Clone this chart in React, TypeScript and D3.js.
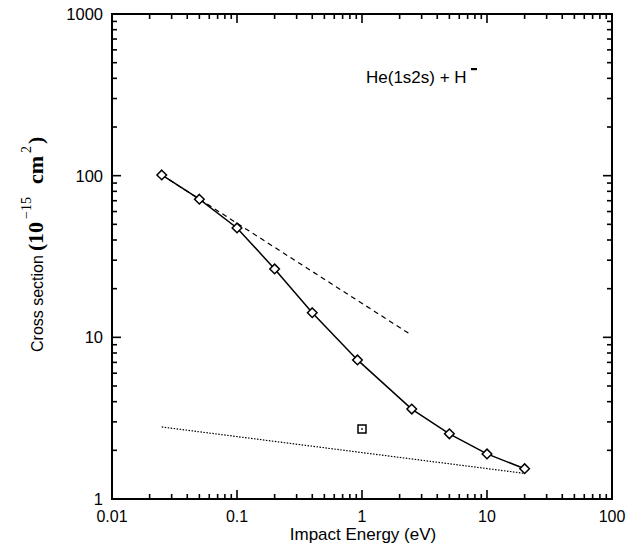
import React from 'react';
import { scaleLog, line } from 'd3';

// solid curve with diamonds
const energy = [0.025, 0.05, 0.1, 0.2, 0.4, 0.92, 2.5, 5, 10, 20];
const cross = [101, 71.5, 47.5, 26.5, 14.2, 7.25, 3.6, 2.53, 1.9, 1.54];
// dashed reference line
const dashedE = [0.025, 2.5];
const dashedS = [101, 10.3];
// dotted line
const dottedE = [0.025, 20];
const dottedS = [2.79, 1.44];
// single square point
const squareE = [1.0];
const squareS = [2.71];

const xTickLabels = ['0.01', '0.1', '1', '10', '100'];
const yTickLabels = ['1', '10', '100', '1000'];

const W = 641;
const H = 547;
const margin = { top: 14, right: 29, bottom: 48, left: 112 };

export default function App() {
  const width = W - margin.left - margin.right;
  const height = H - margin.top - margin.bottom;

  const x = scaleLog().domain([0.01, 100]).range([0, width]);
  const y = scaleLog().domain([1, 1000]).range([height, 0]);

  const ln = line<[number, number]>()
    .x(d => x(d[0]))
    .y(d => y(d[1]));

  const zip = (a: number[], b: number[]) => a.map((v, i) => [v, b[i]] as [number, number]);

  const isMajor = (v: number) => Math.abs(Math.log10(v) - Math.round(Math.log10(v))) < 1e-6;

  const xTicks = x.ticks();
  const yTicks = y.ticks();

  const font = 'Liberation Sans, Arial, Helvetica, sans-serif';
  const serif = 'Liberation Serif, DejaVu Serif, serif';

  return (
    <svg width={W} height={H} style={{ position: 'absolute', left: 0, top: 0, background: '#fff' }}>
      <g transform={`translate(${margin.left},${margin.top})`}>
        {/* ticks */}
        {xTicks.map((t, i) => {
          const len = isMajor(t) ? 9 : 5;
          return (
            <g key={'xt' + i}>
              <line x1={x(t)} x2={x(t)} y1={height} y2={height - len} stroke="#000" strokeWidth={1.6} />
              <line x1={x(t)} x2={x(t)} y1={0} y2={len} stroke="#000" strokeWidth={1.6} />
            </g>
          );
        })}
        {yTicks.map((t, i) => {
          const len = isMajor(t) ? 9 : 5;
          return (
            <g key={'yt' + i}>
              <line x1={0} x2={len} y1={y(t)} y2={y(t)} stroke="#000" strokeWidth={1.6} />
              <line x1={width} x2={width - len} y1={y(t)} y2={y(t)} stroke="#000" strokeWidth={1.6} />
            </g>
          );
        })}
        <rect x={0} y={0} width={width} height={height} fill="none" stroke="#000" strokeWidth={2} />

        {/* tick labels */}
        {xTickLabels.map(l => (
          <text key={'xl' + l} x={x(+l)} y={height + 23} textAnchor="middle" fontFamily={font} fontSize={16}>
            {l}
          </text>
        ))}
        {yTickLabels.map(l => (
          <text key={'yl' + l} x={-9} y={y(+l) + 6} textAnchor="end" fontFamily={font} fontSize={16.5}>
            {l}
          </text>
        ))}

        {/* curves */}
        <path d={ln(zip(dashedE, dashedS)) || ''} fill="none" stroke="#000" strokeWidth={1.2} strokeDasharray="5,4" />
        <path d={ln(zip(dottedE, dottedS)) || ''} fill="none" stroke="#000" strokeWidth={1.2} strokeDasharray="1.5,1.5" />
        <path d={ln(zip(energy, cross)) || ''} fill="none" stroke="#000" strokeWidth={1.5} />
        {energy.map((e, i) => {
          const cx = x(e);
          const cy = y(cross[i]);
          const r = 4.8;
          return (
            <path
              key={'d' + i}
              d={`M${cx},${cy - r}L${cx + r},${cy}L${cx},${cy + r}L${cx - r},${cy}Z`}
              fill="#fff"
              stroke="#000"
              strokeWidth={1.5}
            />
          );
        })}
        {squareE.map((e, i) => (
          <g key={'s' + i}>
            <rect x={x(e) - 4} y={y(squareS[i]) - 4} width={8} height={8} fill="#fff" stroke="#000" strokeWidth={1.5} />
            <rect x={x(e) - 0.8} y={y(squareS[i]) - 0.8} width={1.6} height={1.6} fill="#000" />
          </g>
        ))}

        {/* legend text */}
        <text x={254} y={69} fontFamily={font} fontSize={17}>
          He(1s2s) + H
        </text>
        <rect x={359} y={54} width={6} height={2.2} fill="#000" />
      </g>

      {/* axis titles */}
      <text x={363} y={540} textAnchor="middle" fontFamily={font} fontSize={17}>
        Impact Energy (eV)
      </text>
      <g transform="translate(43,352) rotate(-90)">
        <text x={0} y={0} fontFamily={font} fontSize={16}>
          Cross section
        </text>
        <text x={101} y={0} fontFamily={serif} fontWeight="bold" fontSize={22}>(</text>
        <text x={108} y={0} fontFamily={serif} fontWeight="bold" fontSize={22}>10</text>
        <text x={133} y={-12} fontFamily={serif} fontSize={14}>−15</text>
        <text x={168} y={0} fontFamily={serif} fontWeight="bold" fontSize={22}>cm</text>
        <text x={199} y={-12} fontFamily={serif} fontSize={14}>2</text>
        <text x={208} y={0} fontFamily={serif} fontWeight="bold" fontSize={22}>)</text>
      </g>
    </svg>
  );
}
